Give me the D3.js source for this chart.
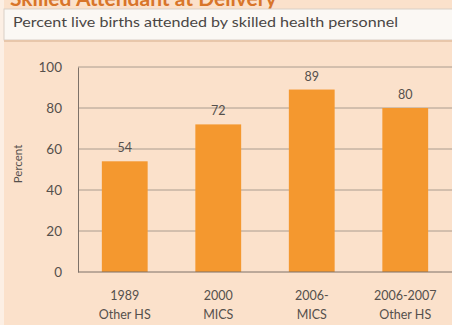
<!DOCTYPE html>
<html>
<head>
<meta charset="utf-8">
<script src="https://cdn.jsdelivr.net/npm/d3@7"></script>
<style>
  html, body { margin: 0; padding: 0; background: #fbe3cd; }
  svg { display: block; }
</style>
</head>
<body>
<svg id="chart" width="452" height="325"></svg>
<script>
// Survey rounds (two-line labels) and share of live births with a skilled attendant
const surveyYears = ["1989", "2000", "2006-", "2006-2007"];
const surveyNames = ["Other HS", "MICS", "MICS", "Other HS"];
const percentAttended = [54, 72, 89, 80];
const yTicks = [0, 20, 40, 60, 80, 100];

const titleText = "Skilled Attendant at Delivery";
const subtitleText = "Percent live births attended by skilled health personnel";
const yAxisTitle = "Percent";

const svg = d3.select("#chart");
const W = 452, H = 325;
const plot = { left: 78, right: 452, top: 67, bottom: 272 };
const textColor = "#55504c";

// background
svg.append("rect").attr("width", W).attr("height", H).attr("fill", "#fbe1cb");
svg.append("rect").attr("x", 0).attr("y", 0).attr("width", 4).attr("height", H).attr("fill", "#fcefe4");

// title band (title sits partly above the top edge)
svg.append("text")
  .attr("x", 10).attr("y", 6)
  .attr("font-family", "Lato, sans-serif").attr("font-weight", "bold")
  .attr("font-size", 21).attr("fill", "#d8752a")
  .text(titleText);

// subtitle box
svg.append("rect").attr("x", 4).attr("y", 9).attr("width", 460).attr("height", 31)
  .attr("fill", "#fbf8f4").attr("stroke", "#d9cfc6").attr("stroke-width", 1);
svg.append("rect").attr("x", 4).attr("y", 40).attr("width", 460).attr("height", 2)
  .attr("fill", "#e8c7ab");
svg.append("text")
  .attr("x", 13).attr("y", 27)
  .attr("font-family", "Lato, sans-serif").attr("font-size", 13.5)
  .attr("textLength", 385).attr("lengthAdjust", "spacingAndGlyphs")
  .attr("fill", "#4a4644")
  .text(subtitleText);

const x = d3.scaleBand()
  .domain(d3.range(percentAttended.length))
  .range([plot.left, plot.right])
  .paddingInner(0.51).paddingOuter(0.255);

const y = d3.scaleLinear().domain([0, 100]).range([plot.bottom, plot.top]);

// gridlines
svg.append("g")
  .selectAll("line")
  .data(yTicks.filter(t => t > 0))
  .join("line")
  .attr("x1", plot.left).attr("x2", plot.right)
  .attr("y1", d => y(d)).attr("y2", d => y(d))
  .attr("stroke", "#aa9c8f").attr("stroke-width", 1);

// y axis
const yAxis = svg.append("g")
  .attr("transform", `translate(${plot.left},0)`)
  .call(d3.axisLeft(y).tickValues(yTicks).tickSize(0).tickPadding(16));
yAxis.select(".domain").attr("stroke", "#7d7168");
yAxis.selectAll("text")
  .attr("font-family", "Lato, sans-serif").attr("font-size", 13.5)
  .attr("fill", textColor);

svg.append("text")
  .attr("transform", `translate(22,164) rotate(-90)`)
  .attr("text-anchor", "middle")
  .attr("font-family", "Lato, sans-serif").attr("font-size", 11.5)
  .attr("fill", textColor)
  .text(yAxisTitle);

// bars
svg.append("g")
  .selectAll("rect")
  .data(percentAttended)
  .join("rect")
  .attr("x", (d, i) => x(i))
  .attr("width", x.bandwidth())
  .attr("y", d => y(d))
  .attr("height", d => y(0) - y(d))
  .attr("fill", "#f4982f");

// value labels
svg.append("g")
  .selectAll("text")
  .data(percentAttended)
  .join("text")
  .attr("x", (d, i) => x(i) + x.bandwidth() / 2)
  .attr("y", d => y(d) - 9)
  .attr("text-anchor", "middle")
  .attr("font-family", "Lato, sans-serif").attr("font-size", 12.5)
  .attr("fill", textColor)
  .text(d => d);

// x axis line
svg.append("line")
  .attr("x1", plot.left).attr("x2", plot.right)
  .attr("y1", plot.bottom).attr("y2", plot.bottom)
  .attr("stroke", "#7d7168").attr("stroke-width", 1);

// category labels
const cat = svg.append("g")
  .selectAll("text")
  .data(surveyYears)
  .join("text")
  .attr("text-anchor", "middle")
  .attr("font-family", "Lato, sans-serif").attr("font-size", 12.5)
  .attr("fill", textColor);
cat.append("tspan")
  .attr("x", (d, i) => x(i) + x.bandwidth() / 2)
  .attr("y", 300)
  .text(d => d);
cat.append("tspan")
  .attr("x", (d, i) => x(i) + x.bandwidth() / 2)
  .attr("y", 319)
  .text((d, i) => surveyNames[i]);
</script>
</body>
</html>
